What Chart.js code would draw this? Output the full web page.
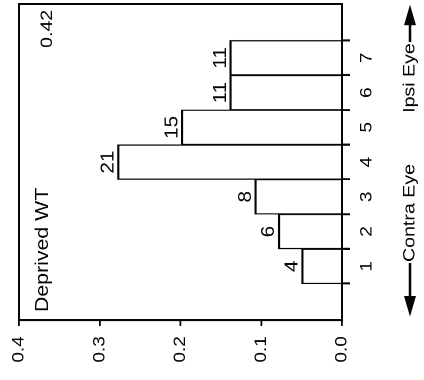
<!DOCTYPE html>
<html>
<head>
<meta charset="utf-8">
<script src="https://cdn.jsdelivr.net/npm/chart.js@4.4.1/dist/chart.umd.min.js"></script>
<style>
  html, body { margin: 0; padding: 0; background: #fff; }
  #wrap { position: relative; width: 424px; height: 380px; overflow: hidden; background: #fff; }
  /* chart is drawn upright, then turned a quarter to the left like the scan */
  #chart { position: absolute; left: 0; top: 0; transform-origin: 0 0;
           transform: translate(0px, 380px) rotate(-90deg) scaleX(1.1515); }
</style>
</head>
<body>
<div id="wrap"><canvas id="chart" width="330" height="424"></canvas></div>
<script>
// --- data ---
const categories = [1, 2, 3, 4, 5, 6, 7];
const fractions = [0.05, 0.079, 0.108, 0.278, 0.199, 0.139, 0.139];
const counts = [4, 6, 8, 21, 15, 11, 11];
const valueTicks = [0, 0.1, 0.2, 0.3, 0.4];
const panelLabel = 'Deprived WT';
const cornerLabel = '0.42';
const contraLabel = 'Contra Eye';
const ipsiLabel = 'Ipsi Eye';

const INK = '#050505';
const FONT = "'Liberation Sans', Arial, Helvetica, sans-serif";
Chart.defaults.font.family = FONT;
Chart.defaults.color = INK;

function arrowHead(ctx, tipX, y, dir) {
    // dir = -1 points left, +1 points right
    ctx.beginPath();
    ctx.moveTo(tipX, y);
    ctx.lineTo(tipX - dir * 18, y - 6);
    ctx.lineTo(tipX - dir * 18, y + 6);
    ctx.closePath();
    ctx.fill();
}

const decorations = {
    id: 'decorations',
    afterDraw(chart) {
        const ctx = chart.ctx;
        const { left, top, right, bottom } = chart.chartArea;
        ctx.save();

        // box round the panel
        ctx.strokeStyle = INK;
        ctx.lineWidth = 2;
        ctx.strokeRect(left, top, right - left, bottom - top);

        // counts above the bars
        ctx.fillStyle = INK;
        ctx.font = `18px ${FONT}`;
        ctx.textAlign = 'center';
        ctx.textBaseline = 'alphabetic';
        chart.getDatasetMeta(0).data.forEach((bar, i) => {
            ctx.fillText(String(counts[i]), bar.x, bar.y - 4);
        });

        // panel name and corner value
        ctx.textAlign = 'left';
        ctx.font = `18.5px ${FONT}`;
        ctx.fillText(panelLabel, left + 7, top + 29);
        ctx.font = `17px ${FONT}`;
        ctx.textAlign = 'right';
        ctx.fillText(cornerLabel, right - 5, top + 33);

        // eye labels with arrows under the category axis
        const y = 410;
        ctx.font = `17px ${FONT}`;
        ctx.textAlign = 'left';
        ctx.textBaseline = 'middle';
        ctx.lineWidth = 2.6;

        const contraX = 102.5;
        ctx.fillText(contraLabel, contraX, y);
        ctx.beginPath();
        ctx.moveTo(contraX - 1, y);
        ctx.lineTo(60, y);
        ctx.stroke();
        arrowHead(ctx, 55, y, -1);

        const ipsiX = 232;
        ctx.fillText(ipsiLabel, ipsiX, y);
        const ipsiEnd = ipsiX + ctx.measureText(ipsiLabel).width;
        ctx.beginPath();
        ctx.moveTo(ipsiEnd + 1, y);
        ctx.lineTo(320, y);
        ctx.stroke();
        arrowHead(ctx, 326, y, 1);

        ctx.restore();
    }
};

new Chart(document.getElementById('chart'), {
    type: 'bar',
    data: {
        datasets: [{
            data: categories.map((c, i) => ({ x: c, y: fractions[i] })),
            backgroundColor: '#ffffff',
            borderColor: INK,
            borderWidth: { top: 2.2, left: 1.1, right: 1.1, bottom: 0 },
            borderSkipped: false,
            barPercentage: 1,
            categoryPercentage: 1
        }]
    },
    options: {
        responsive: false,
        animation: false,
        devicePixelRatio: 2,
        layout: { padding: { top: 19, right: 3.5, bottom: 0, left: 0 } },
        plugins: { legend: { display: false }, tooltip: { enabled: false } },
        scales: {
            x: {
                type: 'linear',
                position: 'bottom',
                min: 0.1,
                max: 7.9,
                afterBuildTicks: s => { s.ticks = categories.map(v => ({ value: v })); },
                afterFit: s => { s.height = 82; },
                grid: { drawOnChartArea: false, drawTicks: true, tickLength: 8, color: INK, lineWidth: 1.8 },
                border: { display: true, color: INK, width: 2 },
                ticks: { font: { size: 16.5 }, color: INK, padding: 7, autoSkip: false, maxRotation: 0,
                         callback: v => String(v) }
            },
            y: {
                min: 0,
                max: 0.4,
                afterBuildTicks: s => { s.ticks = valueTicks.map(v => ({ value: v })); },
                afterFit: s => { s.width = 52; },
                grid: { drawOnChartArea: false, drawTicks: true, tickLength: 5, color: INK, lineWidth: 1.8 },
                border: { display: true, color: INK, width: 2 },
                ticks: { font: { size: 16.5 }, color: INK, padding: 9, callback: v => v.toFixed(1) }
            }
        }
    },
    plugins: [decorations]
});
</script>
</body>
</html>
